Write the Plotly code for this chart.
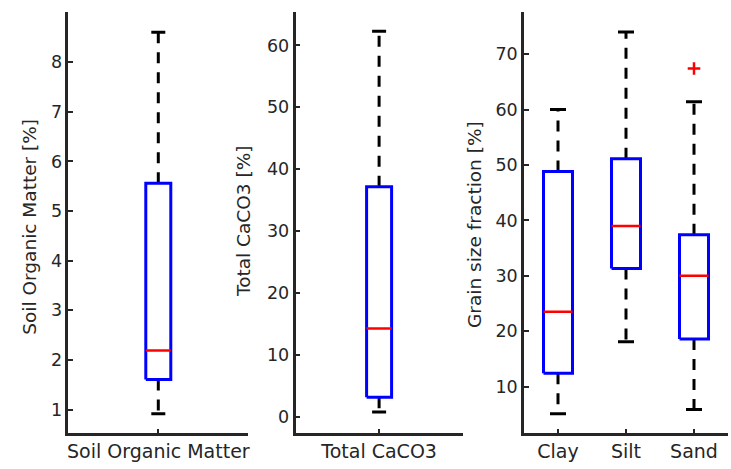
import plotly.graph_objects as go

# ---------------- data ----------------
som_categories = ["Soil Organic Matter"]
som_lower = [0.92]
som_q1 = [1.61]
som_median = [2.19]
som_q3 = [5.56]
som_upper = [8.60]

caco3_categories = ["Total CaCO3"]
caco3_lower = [0.8]
caco3_q1 = [3.2]
caco3_median = [14.3]
caco3_q3 = [37.2]
caco3_upper = [62.3]

grain_categories = ["Clay", "Silt", "Sand"]
grain_lower = [5.1, 18.1, 5.9]
grain_q1 = [12.4, 31.3, 18.6]
grain_median = [23.5, 39.0, 30.0]
grain_q3 = [48.8, 51.1, 37.4]
grain_upper = [60.0, 74.0, 61.4]
grain_outlier_cat = ["Sand"]
grain_outlier_val = [67.4]

som_ticks = [1, 2, 3, 4, 5, 6, 7, 8]
caco3_ticks = [0, 10, 20, 30, 40, 50, 60]
grain_ticks = [10, 20, 30, 40, 50, 60, 70]

# ---------------- layout constants ----------------
W, H = 731, 469
TXT = "#262626"
FONT = "DejaVu Sans"
TICK_SIZE = 17.5
XLAB_SIZE = 19
TITLE_SIZE = 18.5

panels = [
    dict(x0=68.3, x1=248.3, box_half=12.5, cap_half=7.0, yrange=[0.54, 9.01]),
    dict(x0=295.5, x1=462.7, box_half=12.5, cap_half=7.0, yrange=[-2.5, 65.4]),
    dict(x0=524.0, x1=728.0, box_half=14.5, cap_half=8.0, yrange=[1.73, 77.6]),
]
Y_TOP, Y_BOT = 12.0, 432.5

data_sets = [
    (som_categories, som_lower, som_q1, som_median, som_q3, som_upper, som_ticks),
    (caco3_categories, caco3_lower, caco3_q1, caco3_median, caco3_q3, caco3_upper, caco3_ticks),
    (grain_categories, grain_lower, grain_q1, grain_median, grain_q3, grain_upper, grain_ticks),
]

fig = go.Figure()
layout_axes = {}

for k, (p, ds) in enumerate(zip(panels, data_sets), start=1):
    cats, lo, q1, med, q3, hi, yt = ds
    n = len(cats)
    xr = [0.5, n + 0.5]
    units_per_px = (xr[1] - xr[0]) / (p["x1"] - p["x0"])
    bh = p["box_half"] * units_per_px
    ch = p["cap_half"] * units_per_px
    xa = "x" if k == 1 else f"x{k}"
    ya = "y" if k == 1 else f"y{k}"

    wx, wy, cx, cy, bx, by, mx, my = [], [], [], [], [], [], [], []
    for i in range(n):
        c = i + 1
        wx += [c, c, None, c, c, None]
        wy += [q3[i], hi[i], None, q1[i], lo[i], None]
        cx += [c - ch, c + ch, None, c - ch, c + ch, None]
        cy += [hi[i], hi[i], None, lo[i], lo[i], None]
        bx += [c - bh, c + bh, c + bh, c - bh, c - bh, None]
        by += [q1[i], q1[i], q3[i], q3[i], q1[i], None]
        mx += [c - bh, c + bh, None]
        my += [med[i], med[i], None]

    fig.add_trace(go.Scatter(x=wx, y=wy, mode="lines", xaxis=xa, yaxis=ya,
                             line=dict(color="black", width=3, dash="11px,9px"),
                             hoverinfo="skip", showlegend=False))
    fig.add_trace(go.Scatter(x=cx, y=cy, mode="lines", xaxis=xa, yaxis=ya,
                             line=dict(color="black", width=3),
                             hoverinfo="skip", showlegend=False))
    fig.add_trace(go.Scatter(x=bx, y=by, mode="lines", xaxis=xa, yaxis=ya,
                             line=dict(color="#0000FF", width=3),
                             showlegend=False))
    fig.add_trace(go.Scatter(x=mx, y=my, mode="lines", xaxis=xa, yaxis=ya,
                             line=dict(color="#FF0000", width=2.5),
                             showlegend=False))

    if k == 3:
        ox = [grain_categories.index(c) + 1 for c in grain_outlier_cat]
        fig.add_trace(go.Scatter(x=ox, y=grain_outlier_val, mode="markers",
                                 xaxis=xa, yaxis=ya,
                                 marker=dict(symbol="cross-thin", size=9,
                                             line=dict(color="#FF0000", width=2.5)),
                                 showlegend=False))

    xdom = [p["x0"] / W, p["x1"] / W]
    ydom = [(H - Y_BOT) / H, (H - Y_TOP) / H]
    common = dict(showline=True, linecolor=TXT, linewidth=2.5, mirror=False,
                  showgrid=False, zeroline=False, ticks="inside",
                  tickcolor=TXT, tickwidth=2, automargin=False)
    layout_axes["xaxis" if k == 1 else f"xaxis{k}"] = dict(
        common, domain=xdom, range=xr, anchor=ya,
        tickmode="array", tickvals=list(range(1, n + 1)), ticktext=cats,
        ticklen=4, tickfont=dict(family=FONT, size=XLAB_SIZE, color=TXT))
    layout_axes["yaxis" if k == 1 else f"yaxis{k}"] = dict(
        common, domain=ydom, range=p["yrange"], anchor=xa,
        tickmode="array", tickvals=yt, ticklen=5,
        tickfont=dict(family=FONT, size=TICK_SIZE, color=TXT))

titles = [
    ("Soil Organic Matter [%]", 28.7, 227),
    ("Total CaCO3 [%]", 244, 222),
    ("Grain size fraction [%]", 474, 225),
]
annotations = [dict(text=t, x=x / W, y=1 - y / H, xref="paper", yref="paper",
                    xanchor="center", yanchor="middle", textangle=-90,
                    showarrow=False,
                    font=dict(family=FONT, size=TITLE_SIZE, color=TXT))
               for t, x, y in titles]

fig.update_layout(width=W, height=H, margin=dict(l=0, r=0, t=0, b=0),
                  paper_bgcolor="white", plot_bgcolor="white",
                  showlegend=False, annotations=annotations, **layout_axes)

fig.write_html("out.html")
